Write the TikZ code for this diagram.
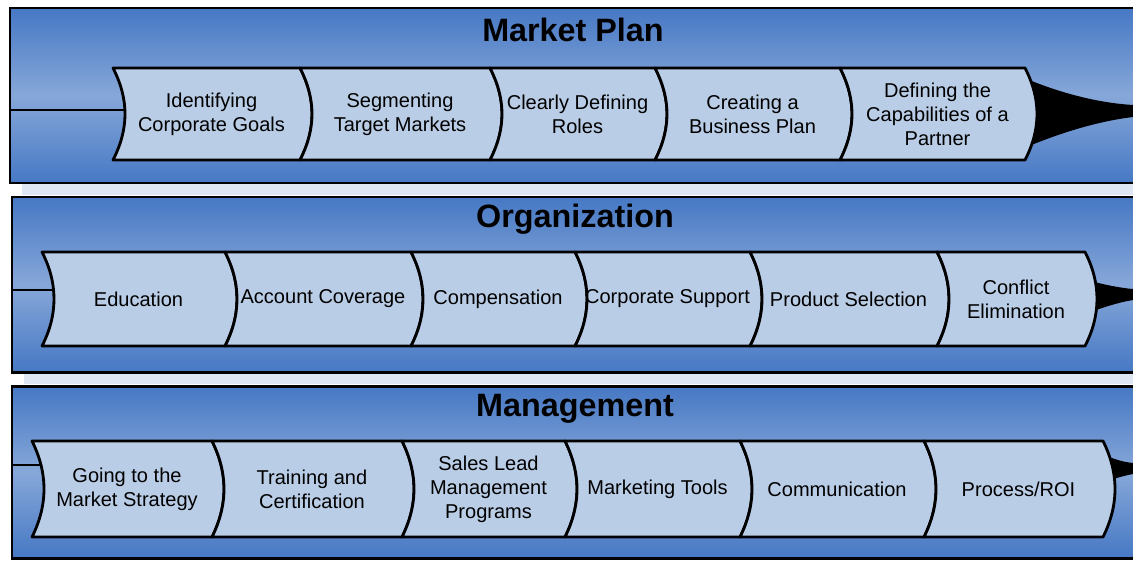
\documentclass[tikz,border=0pt]{standalone}
\usepackage{fontspec}
\setmainfont{Liberation Sans}
\usetikzlibrary{positioning}
\definecolor{bandblue}{RGB}{70,120,196}
\definecolor{steplight}{RGB}{186,205,230}
\definecolor{shadowlight}{RGB}{221,230,242}

\begin{document}
\begin{tikzpicture}[
    x=0.2mm, y=-0.2mm,
    band/.style={draw=black, line width=1.7pt, top color=bandblue, bottom color=bandblue, middle color=bandblue!65!white},
    shadowbar/.style={fill=shadowlight, draw=none},
    bandtitle/.style={font=\fontsize{18.4}{22}\selectfont\bfseries, inner sep=0pt},
    stepbox/.style={draw=black, line width=1.6pt, fill=steplight, line join=round},
    steptext/.style={align=center, inner sep=0pt, font=\fontsize{11.4}{13.7}\selectfont},
    feed/.style={draw=black, line width=0.6pt},
    wedge/.style={fill=black, draw=none}
]
    \useasboundingbox (0,0) rectangle (1133,562);

    % bands
    \fill[shadowbar] (22,183) rectangle (1140,195);
    \fill[shadowbar] (24,372) rectangle (1140,384);
    \path[band] (10,8) rectangle (1145,183);
    \path[band] (12,197) rectangle (1145,372);
    \path[band] (12,386) rectangle (1145,558);

    \node[bandtitle] (plan) at (573,30) {Market Plan};
    \node[bandtitle] (org) at (575,219) {Organization};
    \node[bandtitle] (mgmt) at (575,409) {Management};

    % feeds into and out of each row
    \coordinate (planL) at (10,110);
    \coordinate (planE) at (135,110);
    \draw[feed] (planL) -- (planE);
    \fill[wedge] (1015,74) .. controls (1060,94) and (1100,103) .. (1133,105) -- (1133,117) .. controls (1100,121) and (1060,132) .. (1015,152) -- cycle;

    \coordinate (orgL) at (12,290);
    \coordinate (orgE) at (60,290);
    \draw[feed] (orgL) -- (orgE);
    \fill[wedge] (1080,278) .. controls (1100,284) and (1120,288) .. (1133,289) -- (1133,300) .. controls (1120,302) and (1100,308) .. (1080,316) -- cycle;

    \coordinate (mgmtL) at (12,465);
    \coordinate (mgmtE) at (50,465);
    \draw[feed] (mgmtL) -- (mgmtE);
    \fill[wedge] (1098,452) .. controls (1110,458) and (1122,462) .. (1133,463) -- (1133,474) .. controls (1122,476) and (1110,480) .. (1098,484) -- cycle;

    % market plan steps
    \foreach \xa/\xb/\lbl [count=\i] in {113/300/{Identifying\\Corporate Goals}, 300/490/{Segmenting\\Target Markets}, 490/655/{Clearly Defining\\Roles}, 655/840/{Creating a\\Business Plan}, 840/1025/{Defining the\\Capabilities of a\\Partner}} {
        \draw[stepbox] (\xa,68) -- (\xb,68) .. controls +(16,31) and +(16,-31) .. (\xb,160) -- (\xa,160) .. controls +(16,-31) and +(16,31) .. (\xa,68) -- cycle;
        \node[steptext] (m\i) at ({(\xa+\xb)/2+5},114) {\lbl};
    }

    % organization steps
    \foreach \xa/\xb/\lbl [count=\i] in {42/225/{Education}, 225/411/{Account Coverage}, 411/575/{Compensation}, 575/750/{Corporate Support}, 750/937/{Product Selection}, 937/1085/{Conflict\\Elimination}} {
        \draw[stepbox] (\xa,252) -- (\xb,252) .. controls +(16,31) and +(16,-31) .. (\xb,346) -- (\xa,346) .. controls +(16,-31) and +(16,31) .. (\xa,252) -- cycle;
        \node[steptext] (o\i) at ({(\xa+\xb)/2+5},299) {\lbl};
    }

    % management steps
    \foreach \xa/\xb/\lbl [count=\i] in {32/212/{Going to the\\Market Strategy}, 212/402/{Training and\\Certification}, 402/565/{Sales Lead\\Management\\Programs}, 565/740/{Marketing Tools}, 740/924/{Communication}, 924/1103/{Process/ROI}} {
        \draw[stepbox] (\xa,441) -- (\xb,441) .. controls +(16,32) and +(16,-32) .. (\xb,537) -- (\xa,537) .. controls +(16,-32) and +(16,32) .. (\xa,441) -- cycle;
        \node[steptext] (g\i) at ({(\xa+\xb)/2+5},489) {\lbl};
    }
\end{tikzpicture}
\end{document}
